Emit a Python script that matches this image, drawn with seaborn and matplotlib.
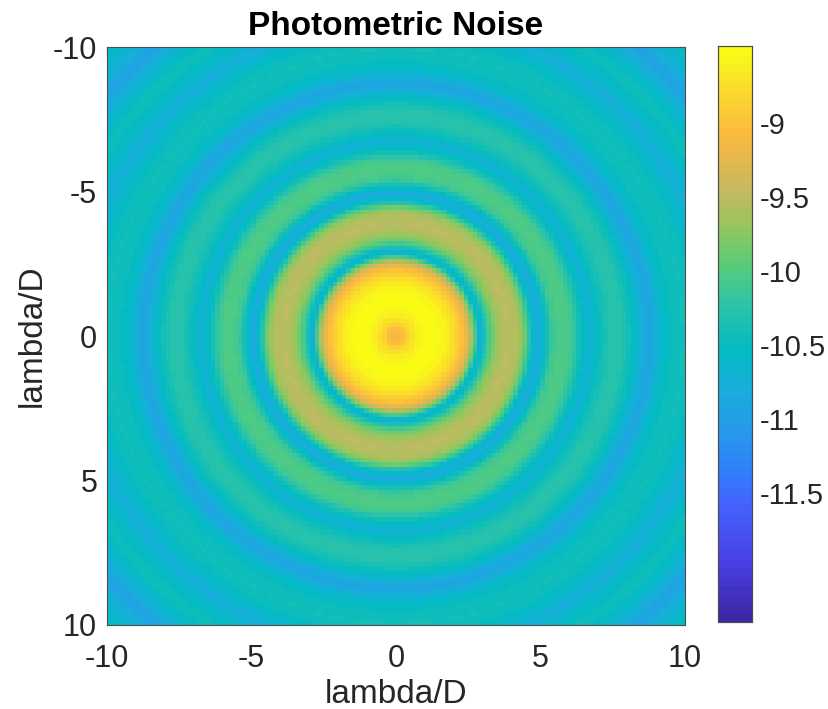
import numpy as np
import pandas as pd
import matplotlib
matplotlib.use("Agg")
import matplotlib.pyplot as plt
from matplotlib.colors import ListedColormap
import seaborn as sns

# ---- data: radial profile of the noise map ----
radius = [0.0, 0.3, 0.6, 0.9, 1.3, 1.7, 2.0, 2.25, 2.5, 2.7, 2.9, 3.1, 3.3, 3.6,
          3.9, 4.2, 4.45, 4.75, 4.95, 5.15, 5.45, 5.8, 6.1, 6.4, 6.75, 7.0, 7.4,
          7.8, 8.2, 8.6, 8.85, 9.2, 9.6, 10.0, 10.4, 11.0, 11.6, 12.0, 12.5,
          13.0, 13.5, 14.2]
noise = [-9.2, -9.0, -8.7, -8.55, -8.5, -8.58, -8.75, -8.98, -9.3, -9.9, -10.72,
         -10.3, -9.9, -9.6, -9.5, -9.55, -9.85, -10.6, -10.85, -10.55, -10.1,
         -10.0, -10.1, -10.45, -10.75, -10.5, -10.3, -10.28, -10.5, -10.85,
         -10.9, -10.6, -10.45, -10.42, -10.5, -10.78, -10.5, -10.45, -10.7,
         -10.95, -10.7, -10.5]
axis_ticks = [-10, -5, 0, 5, 10]
cbar_ticks = [-9, -9.5, -10, -10.5, -11, -11.5]
vmin, vmax = -12.37, -8.48
n_cells = 128
extent = (-10, 10)

# parula-like colormap, 64 levels, anchors matched to the reference colour bar
anchor_pos = [0.00, 0.10, 0.20, 0.25, 0.32, 0.40, 0.47, 0.55, 0.62, 0.70,
              0.75, 0.82, 0.86, 0.92, 1.00]
anchor_col = [(0.2422, 0.1504, 0.6603), (0.2783, 0.2559, 0.8991),
              (0.2699, 0.3892, 0.9906), (0.1963, 0.4847, 0.9892),
              (0.1540, 0.5902, 0.9218), (0.0952, 0.6798, 0.8598),
              (0.0067, 0.7312, 0.7660), (0.1717, 0.7670, 0.6554),
              (0.3406, 0.8008, 0.4789), (0.6200, 0.7700, 0.3600),
              (0.7600, 0.7250, 0.3900), (0.9300, 0.7200, 0.2800),
              (0.9900, 0.7400, 0.2400), (0.9800, 0.8400, 0.1800),
              (0.9769, 0.9839, 0.0805)]
lv = np.linspace(0, 1, 64)
cols = np.array(anchor_col)
cmap_list = np.stack([np.interp(lv, anchor_pos, cols[:, k]) for k in range(3)], axis=1)
cmap = ListedColormap(cmap_list, name="parula_like")

# build the 2-D map from the radial profile
step = (extent[1] - extent[0]) / n_cells
centers = extent[0] + step * (np.arange(n_cells) + 0.5)
X, Y = np.meshgrid(centers, centers)
R = np.hypot(X, Y)
grid = np.interp(R, radius, noise)
df = pd.DataFrame(grid, index=np.round(centers, 3), columns=np.round(centers, 3))

sns.set_style("white")
plt.rcParams['font.family'] = ['Liberation Sans', 'DejaVu Sans']

fig = plt.figure(figsize=(8.29, 7.09), dpi=100)
ax = fig.add_axes([0.129, 0.1185, 0.697, 0.815])
cax = fig.add_axes([0.866, 0.1227, 0.041, 0.8124])

sns.heatmap(df, cmap=cmap, vmin=vmin, vmax=vmax, ax=ax, cbar_ax=cax,
            xticklabels=False, yticklabels=False)

def pos(v):
    return (v - extent[0]) / (extent[1] - extent[0]) * n_cells

ax.set_xticks([pos(v) for v in axis_ticks])
ax.set_xticklabels([str(v) for v in axis_ticks])
ax.set_yticks([pos(v) for v in axis_ticks])
ax.set_yticklabels([str(v) for v in axis_ticks], rotation=0)
ax.tick_params(direction='in', length=5, width=0.8, colors='0.2',
               labelcolor='0.15', labelsize=22, top=True, right=True)
ax.tick_params(axis='x', pad=14)
ax.tick_params(axis='y', pad=7)
for s in ax.spines.values():
    s.set_visible(True)
    s.set_color('0.3')
    s.set_linewidth(0.8)
ax.set_xlabel("lambda/D", fontsize=24, color='0.15', labelpad=3)
ax.set_ylabel("lambda/D", fontsize=24, color='0.15')
ax.set_title("Photometric Noise", fontsize=24, fontweight='bold', color='black', pad=9)

cax.set_yticks(cbar_ticks)
cax.set_yticklabels([f"{t:g}" for t in cbar_ticks])
cax.tick_params(direction='in', length=5, width=0.8, colors='0.2',
                labelcolor='0.15', labelsize=21, pad=6)
for s in cax.spines.values():
    s.set_visible(True)
    s.set_color('0.3')
    s.set_linewidth(0.8)

fig.savefig("out.png", dpi=100)
